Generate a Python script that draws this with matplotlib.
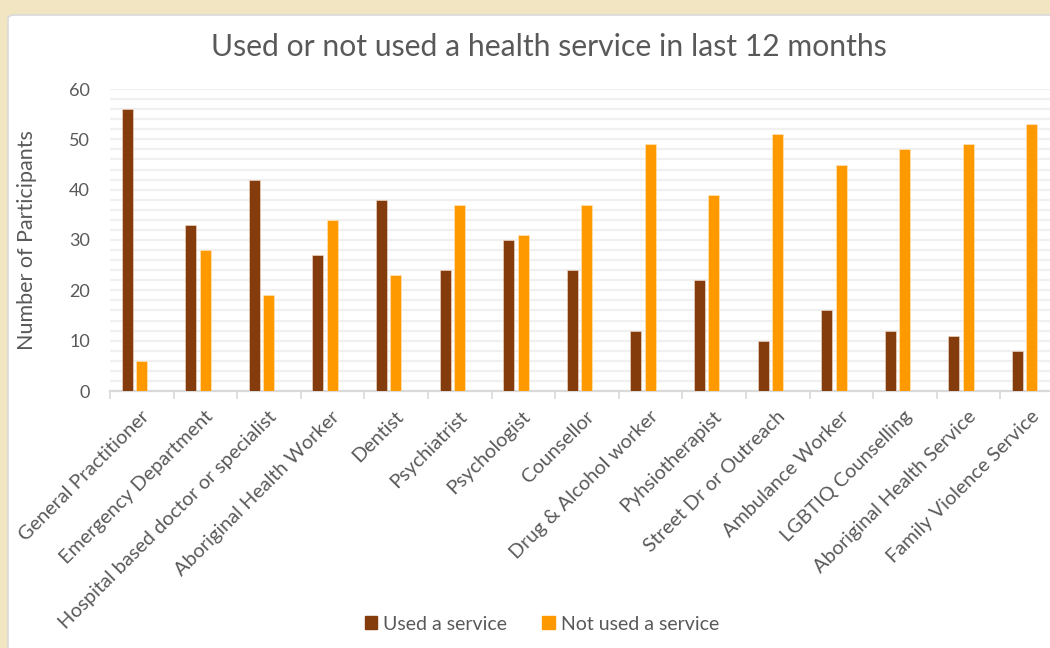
import matplotlib
matplotlib.use("Agg")
import matplotlib.pyplot as plt
import matplotlib.transforms as mtransforms
from matplotlib.patches import FancyBboxPatch, Patch
from matplotlib.ticker import MultipleLocator
import numpy as np

plt.rcParams['font.family'] = ['Lato', 'DejaVu Sans']

# data
categories = ["General Practitioner", "Emergency Department", "Hospital based doctor or specialist",
              "Aboriginal Health Worker", "Dentist", "Psychiatrist", "Psychologist", "Counsellor",
              "Drug & Alcohol worker", "Pyhsiotherapist", "Street Dr or Outreach", "Ambulance Worker",
              "LGBTIQ Counselling", "Aboriginal Health Service", "Family Violence Service"]
used = [56, 33, 42, 27, 38, 24, 30, 24, 12, 22, 10, 16, 12, 11, 8]
not_used = [6, 28, 19, 34, 23, 37, 31, 37, 49, 39, 51, 45, 48, 49, 53]

c_used = "#843C0C"
c_not = "#FF9900"
txt = "#595959"

W, H = 1050, 648
fig = plt.figure(figsize=(W / 100, H / 100), dpi=100)
fig.patch.set_facecolor("#F2E6C2")

# white chart box
box = FancyBboxPatch((8 / W, -0.05), 1.1, 1 - 15 / H + 0.05,
                     boxstyle="round,pad=0,rounding_size=0.006",
                     transform=fig.transFigure, facecolor="white",
                     edgecolor="#D9D9D9", linewidth=1.2, zorder=-5)
fig.patches.append(box)

ax = fig.add_axes([110 / W, (H - 391) / H, 954 / W, 302 / H])
ax.set_zorder(2)
ax.set_facecolor("none")

x = np.arange(len(categories))
bw = 0.173
ax.bar(x + 0.27, used, width=bw, color=c_used, edgecolor="#F5E0D0", linewidth=0.4, zorder=3)
ax.bar(x + 0.495, not_used, width=bw, color=c_not, edgecolor="#FFE9C8", linewidth=0.4, zorder=3)

ax.set_xlim(0, len(categories))
ax.set_ylim(0, 60)
ax.yaxis.set_major_locator(MultipleLocator(10))
ax.yaxis.set_minor_locator(MultipleLocator(2))
ax.grid(axis="y", which="both", color="#F0F0F0", linewidth=1.6, zorder=0)
ax.tick_params(axis="y", which="both", length=0, labelsize=13, labelcolor=txt, pad=14.5)
for s in ["top", "right", "left"]:
    ax.spines[s].set_visible(False)
ax.spines["bottom"].set_color("#D9D9D9")
ax.spines["bottom"].set_linewidth(1.6)

ax.set_xticks(np.arange(len(categories) + 1))
ax.set_xticklabels([])
ax.tick_params(axis="x", length=6, width=1.2, color="#D9D9D9")

trans = mtransforms.blended_transform_factory(ax.transData, ax.transAxes)
for i, lab in enumerate(categories):
    ax.text(i + 0.57, -0.076, lab, transform=trans, rotation=45, rotation_mode="anchor",
            ha="right", va="center", fontsize=14.3, color=txt)

fig.text(0.523, 0.927, "Used or not used a health service in last 12 months",
         ha="center", va="center", fontsize=21.7, color=txt)
fig.text(0.026, 0.63, "Number of Participants", rotation=90, ha="center", va="center",
         fontsize=15.5, color=txt)

handles = [Patch(color=c_used, label="Used a service"), Patch(color=c_not, label="Not used a service")]
fig.legend(handles=handles, loc="center", bbox_to_anchor=(0.516, 0.037), ncol=2, frameon=False,
           fontsize=14, labelcolor=txt, handlelength=0.65, handleheight=0.65, handletextpad=0.3,
           columnspacing=1.8)

fig.savefig("out.png", dpi=100, facecolor=fig.get_facecolor())
